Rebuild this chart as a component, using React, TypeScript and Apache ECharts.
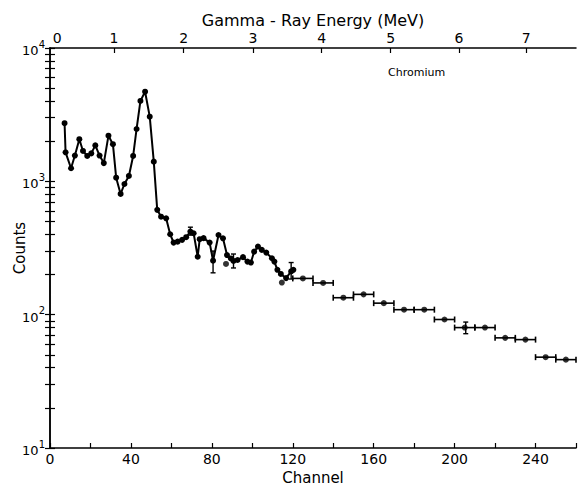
import React, { useEffect, useRef } from "react";
import * as echarts from "echarts";

// Channel-by-channel measurements (connected curve)
const channels = [
  7.2, 7.7, 10.4, 12.3, 14.5, 16.3, 18.4, 20.4, 22.4, 24.5, 26.6, 28.9, 31.1, 32.7, 34.9,
  36.8, 39.0, 41.1, 42.8, 44.7, 47.0, 49.3, 51.3, 53.0, 54.9, 57.4, 59.4, 61.1, 63.1, 65.3,
  67.3, 69.4, 71.0, 73.0, 74.0, 75.9, 78.9, 80.6, 83.3, 85.5, 87.5, 89.4, 90.7, 92.7, 95.4,
  97.6, 99.3, 100.9, 102.8, 104.7, 106.9, 109.7, 110.9, 112.4, 114.1, 116.7, 119.2, 120.3,
];
const counts = [
  2730, 1650, 1253, 1560, 2070, 1690, 1550, 1620, 1860, 1560, 1370, 2200, 1900, 1065, 805,
  955, 1097, 1550, 2470, 4010, 4700, 3055, 1405, 611, 543, 528, 401, 347, 353, 364,
  381, 420, 408, 272, 368, 375, 347, 254, 396, 374, 280, 264, 253, 257, 270,
  250, 246, 297, 324, 306, 292, 265, 250, 217, 202, 188, 211, 217,
];

// Isolated points not on the curve
const strayChannels = [87.0, 114.6];
const strayCounts = [240, 174];

// Binned data (10-channel bins)
const binCenters = [125, 135, 145, 155, 165, 175, 185, 195, 205, 215, 225, 235, 245, 255];
const binCounts = [187, 173, 134, 142, 122, 109, 109, 92, 80, 80, 67, 65, 48, 46];
const binHalfWidth = 5;

// Vertical error bars
const errChannels = [69.4, 80.6, 90.7, 119.2, 205.5];
const errLow = [395, 206, 224, 185, 72];
const errHigh = [453, 300, 285, 246, 88];

// Energy (top) axis calibration
const energyLabels = ["0", "1", "2", "3", "4", "5", "6", "7"];
const energyChannels = [3.6, 31.6, 66.1, 100.3, 134.3, 168.4, 202.2, 235.4];

// Log axis ticks
const decades = [10, 100, 1000, 10000];
const multipliers = [1, 2, 3, 4, 5, 6, 7, 8, 9];

const FONT = "DejaVu Sans";

export default function App() {
  const ref = useRef<HTMLDivElement>(null);

  useEffect(() => {
    if (!ref.current) return;
    const chart = echarts.init(ref.current, null, { renderer: "svg" });

    const yTicks: number[] = [];
    decades.forEach((d, i) => {
      if (i === decades.length - 1) {
        yTicks.push(d);
      } else {
        multipliers.forEach((m) => yTicks.push(d * m));
      }
    });

    const lineData = channels.map((c, i) => [c, counts[i]]);
    const strayData = strayChannels.map((c, i) => [c, strayCounts[i]]);
    const binDots = binCenters.map((c, i) => [c, binCounts[i]]);
    const binBars = binCenters.map((c, i) => [c - binHalfWidth, c + binHalfWidth, binCounts[i]]);
    const errData = errChannels.map((c, i) => [c, errLow[i], errHigh[i]]);

    const energyTickChannels = energyChannels.slice(1);

    const axisLine = { show: true, lineStyle: { color: "#000", width: 1.5 } };
    const tickStyle = { color: "#000", width: 1.2 };

    const option: any = {
      animation: false,
      backgroundColor: "#fff",
      grid: {
        left: 50,
        right: 4,
        top: 48,
        bottom: 37,
        containLabel: false,
        outerBoundsMode: "none",
      },
      xAxis: [
        {
          type: "value",
          min: 0,
          max: 260,
          interval: 20,
          position: "bottom",
          axisLine,
          axisTick: { show: true, inside: true, length: 5, lineStyle: tickStyle },
          splitLine: { show: false },
          axisLabel: {
            color: "#000",
            fontFamily: FONT,
            fontSize: 14,
            margin: 4,
            formatter: (v: number) => (v % 40 === 0 ? String(v) : ""),
          },
          name: "Channel",
          nameLocation: "middle",
          nameGap: 22,
          nameMoveOverlap: false,
          nameTextStyle: { color: "#000", fontFamily: FONT, fontSize: 15 },
        },
        {
          type: "value",
          min: 0,
          max: 260,
          position: "top",
          axisLine,
          axisTick: {
            show: true,
            inside: true,
            length: 5,
            lineStyle: tickStyle,
            customValues: energyTickChannels,
          },
          splitLine: { show: false },
          axisLabel: {
            color: "#000",
            fontFamily: FONT,
            fontSize: 14,
            margin: 3,
            customValues: energyChannels,
            formatter: (v: number) => {
              let best = 0;
              energyChannels.forEach((c, i) => {
                if (Math.abs(c - v) < Math.abs(energyChannels[best] - v)) best = i;
              });
              return energyLabels[best];
            },
          },
          name: "Gamma - Ray Energy (MeV)",
          nameLocation: "middle",
          nameGap: 20,
          nameMoveOverlap: false,
          nameTextStyle: { color: "#000", fontFamily: FONT, fontSize: 16 },
        },
      ],
      yAxis: [
        {
          type: "log",
          logBase: 10,
          min: 10,
          max: 10000,
          position: "left",
          axisLine,
          axisTick: { show: true, inside: true, length: 5, lineStyle: tickStyle, customValues: yTicks },
          minorTick: { show: false },
          splitLine: { show: false },
          axisLabel: {
            customValues: decades,
            margin: 5,
            formatter: (v: number) => `{b|10}{s|${Math.round(Math.log10(v))}}`,
            rich: {
              b: { color: "#000", fontFamily: FONT, fontSize: 13, lineHeight: 18, verticalAlign: "bottom" },
              s: { color: "#000", fontFamily: FONT, fontSize: 10, lineHeight: 18, verticalAlign: "top" },
            },
          },
          name: "Counts",
          nameLocation: "middle",
          nameGap: 23,
          nameRotate: 90,
          nameMoveOverlap: false,
          nameTextStyle: { color: "#000", fontFamily: FONT, fontSize: 15 },
        },
        {
          type: "log",
          logBase: 10,
          min: 10,
          max: 10000,
          position: "right",
          axisLine,
          axisTick: { show: true, inside: true, length: 5, lineStyle: tickStyle, customValues: yTicks },
          splitLine: { show: false },
          axisLabel: { show: false },
        },
      ],
      series: [
        {
          type: "line",
          data: lineData,
          symbol: "circle",
          symbolSize: 6,
          itemStyle: { color: "#000" },
          lineStyle: { color: "#000", width: 2 },
          z: 3,
        },
        {
          type: "scatter",
          data: strayData,
          symbol: "circle",
          symbolSize: 6,
          itemStyle: { color: "#000" },
          z: 3,
        },
        {
          type: "custom",
          data: binBars,
          encode: { x: [0, 1], y: 2 },
          renderItem: (params: any, api: any) => {
            const p1 = api.coord([api.value(0), api.value(2)]);
            const p2 = api.coord([api.value(1), api.value(2)]);
            const st = { stroke: "#000", lineWidth: 1.6 };
            return {
              type: "group",
              children: [
                { type: "line", shape: { x1: p1[0], y1: p1[1], x2: p2[0], y2: p2[1] }, style: st },
                { type: "line", shape: { x1: p1[0], y1: p1[1] - 3, x2: p1[0], y2: p1[1] + 3 }, style: st },
                { type: "line", shape: { x1: p2[0], y1: p2[1] - 3, x2: p2[0], y2: p2[1] + 3 }, style: st },
              ],
            };
          },
          z: 2,
        },
        {
          type: "scatter",
          data: binDots,
          symbol: "circle",
          symbolSize: 6,
          itemStyle: { color: "#000" },
          z: 3,
        },
        {
          type: "custom",
          data: errData,
          encode: { x: 0, y: [1, 2] },
          renderItem: (params: any, api: any) => {
            const p1 = api.coord([api.value(0), api.value(1)]);
            const p2 = api.coord([api.value(0), api.value(2)]);
            const st = { stroke: "#000", lineWidth: 1.4 };
            return {
              type: "group",
              children: [
                { type: "line", shape: { x1: p1[0], y1: p1[1], x2: p2[0], y2: p2[1] }, style: st },
                { type: "line", shape: { x1: p1[0] - 2.5, y1: p1[1], x2: p1[0] + 2.5, y2: p1[1] }, style: st },
                { type: "line", shape: { x1: p2[0] - 2.5, y1: p2[1], x2: p2[0] + 2.5, y2: p2[1] }, style: st },
              ],
            };
          },
          z: 2,
        },
      ],
      graphic: [
        {
          type: "text",
          left: 388,
          top: 67,
          style: { text: "Chromium", fill: "#000", font: `11px "${FONT}"` },
        },
      ],
    };

    chart.setOption(option);
    return () => chart.dispose();
  }, []);

  return (
    <div
      ref={ref}
      style={{ position: "absolute", left: 0, top: 0, width: 580, height: 485, background: "#fff" }}
    />
  );
}
